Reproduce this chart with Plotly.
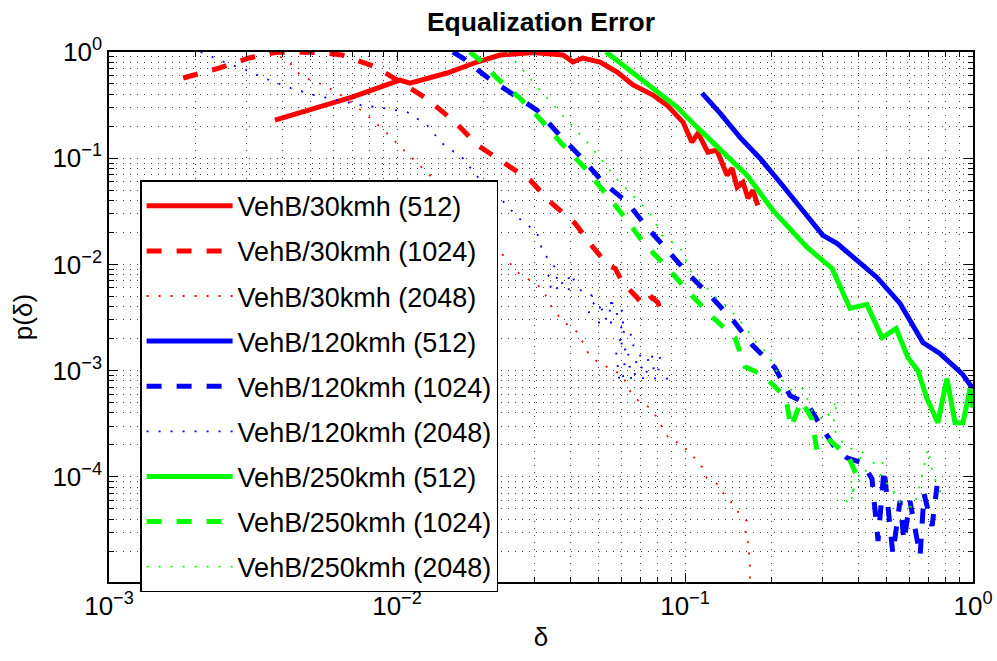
import plotly.graph_objects as go

# ---------------- data ----------------
x_tick_vals = [1e-3, 1e-2, 1e-1, 1]
x_tick_text = ["10<sup>−3</sup>", "10<sup>−2</sup>", "10<sup>−1</sup>", "10<sup>0</sup>"]
y_tick_vals = [1e-4, 1e-3, 1e-2, 1e-1, 1]
y_tick_text = ["10<sup>−4</sup>", "10<sup>−3</sup>", "10<sup>−2</sup>", "10<sup>−1</sup>", "10<sup>0</sup>"]

series_names = [
    "VehB/30kmh (512)", "VehB/30kmh (1024)", "VehB/30kmh (2048)",
    "VehB/120kmh (512)", "VehB/120kmh (1024)", "VehB/120kmh (2048)",
    "VehB/250kmh (512)", "VehB/250kmh (1024)", "VehB/250kmh (2048)",
]

red_512_x = [0.00377, 0.00698, 0.01023, 0.0111, 0.01493, 0.01897, 0.0228, 0.0297, 0.0377, 0.0408,
             0.0442, 0.0507, 0.0581, 0.0660, 0.0774, 0.0866, 0.0984, 0.1057, 0.111, 0.120,
             0.129, 0.140, 0.1456, 0.1517, 0.159, 0.1655, 0.172, 0.179]
red_512_y = [0.228, 0.376, 0.544, 0.510, 0.634, 0.805, 0.937, 0.99, 0.937, 0.805,
             0.878, 0.805, 0.648, 0.489, 0.393, 0.316, 0.219, 0.1416, 0.172, 0.114,
             0.119, 0.0691, 0.0805, 0.0533, 0.0594, 0.042, 0.0499, 0.036]

red_1024_x = [0.00181, 0.00241, 0.00306, 0.00377, 0.00425, 0.0054, 0.00644, 0.00845, 0.01262, 0.0159,
              0.019, 0.0233, 0.029, 0.0345, 0.0415, 0.048, 0.0541, 0.0572, 0.061, 0.0681,
              0.0715, 0.0768, 0.0805, 0.0832]
red_1024_y = [0.569, 0.706, 0.878, 0.99, 1.0, 0.99, 0.937, 0.722, 0.368, 0.219,
              0.133, 0.0917, 0.062, 0.0376, 0.0244, 0.01446, 0.0098, 0.00917, 0.00662, 0.00489,
              0.0041, 0.00489, 0.00438, 0.0033]

red_2048_x = [0.0036, 0.00395, 0.00428, 0.00464, 0.00503, 0.00545, 0.0059, 0.0064, 0.00681, 0.008,
              0.00923, 0.01057, 0.0121, 0.013, 0.01866, 0.0263, 0.029, 0.0319, 0.0345, 0.0368,
              0.0393, 0.0425, 0.046, 0.0499, 0.0541, 0.061, 0.063, 0.0698, 0.0756, 0.08,
              0.0839, 0.0888, 0.0977, 0.1017, 0.1067, 0.111, 0.1155, 0.119, 0.124, 0.129,
              0.1323, 0.140, 0.149, 0.159, 0.164, 0.1614, 0.168, 0.164, 0.168, 0.168]
red_2048_y = [1.0, 0.897, 0.771, 0.594, 0.544, 0.499, 0.448, 0.393, 0.353, 0.244,
              0.172, 0.119, 0.0822, 0.0691, 0.0249, 0.0084, 0.00706, 0.00594, 0.00393, 0.00316,
              0.00266, 0.00228, 0.00148, 0.00119, 0.00107, 0.000897, 0.000692, 0.000499, 0.000448, 0.00036,
              0.000284, 0.000219, 0.000205, 0.000176, 0.000158, 0.000133, 0.000122, 0.0000979, 0.0000917, 0.0000859,
              0.0000738, 0.0000662, 0.0000511, 0.000041, 0.0000385, 0.000031, 0.0000266, 0.0000233, 0.0000172, 0.0000095]

blue_512_x = [0.1146, 0.1323, 0.155, 0.182, 0.2136, 0.257, 0.301, 0.337, 0.396, 0.464,
              0.558, 0.670, 0.767, 0.916, 1.0]
blue_512_y = [0.410, 0.266, 0.158, 0.1, 0.0594, 0.0323, 0.0188, 0.0158, 0.0109, 0.00754,
              0.00429, 0.00184, 0.00145, 0.000937, 0.000676]

blue_1024_x = [0.01564, 0.01694, 0.0205, 0.0247, 0.0306, 0.0362, 0.0439, 0.0519, 0.063, 0.0738,
               0.0873, 0.104, 0.124, 0.147, 0.172, 0.205, 0.2316, 0.2655, 0.299, 0.332,
               0.365, 0.412, 0.446, 0.468, 0.491, 0.527, 0.558, 0.576, 0.604, 0.655,
               0.676, 0.721, 0.750]
blue_1024_y = [1.0, 0.878, 0.581, 0.420, 0.284, 0.172, 0.1, 0.0594, 0.0385, 0.0223,
               0.01356, 0.00787, 0.00489, 0.00296, 0.00172, 0.00107, 0.000581, 0.000489, 0.00029, 0.000188,
               0.000151, 0.000136, 0.0000957, 0.0000249, 0.000119, 0.0000188, 0.0000594, 0.0000249, 0.0000594, 0.000018,
               0.0000692, 0.0000345, 0.0000822]

blue_2048_x = [0.00208, 0.00251, 0.00299, 0.0036, 0.00428, 0.00515, 0.00619, 0.0075, 0.00902, 0.01084,
               0.0127, 0.01432, 0.01681, 0.0191, 0.0228, 0.0263, 0.0306, 0.0321, 0.0354, 0.0332,
               0.0422, 0.0334, 0.0442, 0.0494, 0.046, 0.0581, 0.0507, 0.0619, 0.0494, 0.063,
               0.0581, 0.066, 0.0572, 0.067, 0.0572, 0.0832, 0.0572, 0.0832, 0.0572, 0.0805,
               0.0885]
blue_2048_y = [1.0, 0.805, 0.676, 0.544, 0.457, 0.393, 0.353, 0.316, 0.296, 0.272,
               0.205, 0.1385, 0.102, 0.0662, 0.042, 0.0277, 0.02, 0.013, 0.00937, 0.00754,
               0.00738, 0.00607, 0.00569, 0.00478, 0.00352, 0.00457, 0.00368, 0.00368, 0.00284, 0.00284,
               0.00238, 0.00223, 0.00184, 0.00172, 0.00145, 0.00133, 0.00111, 0.00104, 0.000859, 0.000841,
               0.00084]

green_512_x = [0.0532, 0.0698, 0.0818, 0.0938, 0.110, 0.1323, 0.164, 0.202, 0.2655, 0.324,
               0.374, 0.428, 0.483, 0.541, 0.594, 0.644, 0.692, 0.755, 0.812, 0.866,
               0.923, 0.976, 1.0]
green_512_y = [1.0, 0.569, 0.410, 0.303, 0.196, 0.119, 0.0691, 0.0323, 0.01446, 0.00917,
               0.00385, 0.0042, 0.00205, 0.00249, 0.00133, 0.001, 0.000545, 0.000323, 0.000841, 0.000323,
               0.000323, 0.000676, 0.000448]

green_1024_x = [0.0179, 0.0194, 0.0222, 0.0267, 0.0321, 0.0377, 0.045, 0.0536, 0.063, 0.0715,
                0.0866, 0.104, 0.125, 0.149, 0.1616, 0.188, 0.224, 0.2334, 0.253, 0.276,
                0.287, 0.319, 0.368, 0.399]
green_1024_y = [1.0, 0.841, 0.569, 0.368, 0.219, 0.133, 0.0805, 0.0448, 0.026, 0.01614,
                0.00937, 0.00532, 0.00316, 0.00205, 0.00109, 0.000897, 0.000556, 0.00029, 0.000521, 0.000352,
                0.000176, 0.000219, 0.000158, 0.0000957]

green_2048_x = [0.0241, 0.0274, 0.0309, 0.0354, 0.0406, 0.0457, 0.0515, 0.0585, 0.067, 0.0756,
                0.0832, 0.0961, 0.1057, 0.1127, 0.129, 0.140, 0.158, 0.178, 0.193, 0.214,
                0.2355, 0.257, 0.276, 0.306, 0.337, 0.327, 0.340, 0.368, 0.428, 0.380,
                0.405, 0.368, 0.396, 0.360, 0.439, 0.487, 0.475, 0.527, 0.544, 0.619,
                0.644, 0.698, 0.726, 0.767, 0.78]
green_2048_y = [1.0, 0.676, 0.457, 0.303, 0.205, 0.1416, 0.0958, 0.062, 0.0429, 0.0303,
                0.0188, 0.01446, 0.00822, 0.00706, 0.00478, 0.00402, 0.00277, 0.0018, 0.00145, 0.000859,
                0.000647, 0.000676, 0.00042, 0.000337, 0.000521, 0.000303, 0.000233, 0.000188, 0.000165, 0.000133,
                0.0000979, 0.0000859, 0.0000706, 0.0000556, 0.000133, 0.000142, 0.0000979, 0.0000787, 0.0000594, 0.0000511,
                0.0000706, 0.000184, 0.0001067, 0.0000738, 0.0000619]

series_x = [red_512_x, red_1024_x, red_2048_x, blue_512_x, blue_1024_x, blue_2048_x,
            green_512_x, green_1024_x, green_2048_x]
series_y = [red_512_y, red_1024_y, red_2048_y, blue_512_y, blue_1024_y, blue_2048_y,
            green_512_y, green_1024_y, green_2048_y]

# ---------------- styles ----------------
colors = ["#ff0000"] * 3 + ["#0000ff"] * 3 + ["#00ff00"] * 3
dashes = ["solid", "dash", "2px,10px"] * 3
widths = [5, 5, 1.8] * 3

FONT = "Liberation Sans, Arial, Helvetica, sans-serif"

fig = go.Figure()
for name, xs, ys, c, d, w in zip(series_names, series_x, series_y, colors, dashes, widths):
    fig.add_trace(go.Scatter(
        x=xs, y=ys, mode="lines", name=name, legendgroup=name,
        line=dict(color=c, dash=d, width=w),
    ))

x_minor = [m * 10.0 ** e for e in range(-3, 0) for m in range(2, 10)]
y_minor = [m * 10.0 ** e for e in range(-5, 0) for m in range(2, 10)]

grid_dash = "1px,6px"
grid_col = "rgba(0,0,0,0.75)"

fig.update_layout(
    width=997, height=661,
    margin=dict(l=109, r=24, t=52, b=79, autoexpand=False),
    paper_bgcolor="white", plot_bgcolor="white",
    font=dict(family=FONT, size=26, color="black"),
    title=dict(text="<b>Equalization Error</b>", x=0.5, xref="paper", xanchor="center",
               y=1 - 22 / 661, yref="container", yanchor="middle",
               font=dict(size=26.5, family=FONT, color="black")),
    showlegend=True,
    legend=dict(x=0.036, y=0.758, xanchor="left", yanchor="top",
                bgcolor="white", bordercolor="black", borderwidth=1.5,
                font=dict(size=27, family=FONT, color="black"),
                itemwidth=86, tracegroupgap=7, traceorder="grouped"),
)

fig.update_xaxes(
    type="log", range=[-3, 0], automargin=False,
    tickmode="array", tickvals=x_tick_vals, ticktext=x_tick_text,
    ticks="inside", ticklen=9, tickcolor="black", tickwidth=1,
    showline=True, linecolor="black", linewidth=1.5, mirror="ticks",
    showgrid=True, gridcolor=grid_col, griddash=grid_dash, gridwidth=1,
    zeroline=False,
    minor=dict(tickmode="array", tickvals=x_minor, ticks="inside", ticklen=5,
               tickcolor="black", showgrid=True, gridcolor=grid_col, griddash=grid_dash, gridwidth=1),
    title=dict(text="δ", standoff=8, font=dict(size=26, family=FONT)),
    tickfont=dict(size=26, family=FONT),
)
fig.update_yaxes(
    type="log", range=[-4.99, 0], automargin=False,
    tickmode="array", tickvals=y_tick_vals, ticktext=y_tick_text,
    ticks="inside", ticklen=9, tickcolor="black", tickwidth=1,
    showline=True, linecolor="black", linewidth=1.5, mirror="ticks",
    showgrid=True, gridcolor=grid_col, griddash=grid_dash, gridwidth=1,
    zeroline=False,
    minor=dict(tickmode="array", tickvals=y_minor, ticks="inside", ticklen=5,
               tickcolor="black", showgrid=True, gridcolor=grid_col, griddash=grid_dash, gridwidth=1),
    title=dict(text="p(δ)", standoff=12, font=dict(size=26, family=FONT)),
    tickfont=dict(size=26, family=FONT),
)

fig.write_html("out.html")
